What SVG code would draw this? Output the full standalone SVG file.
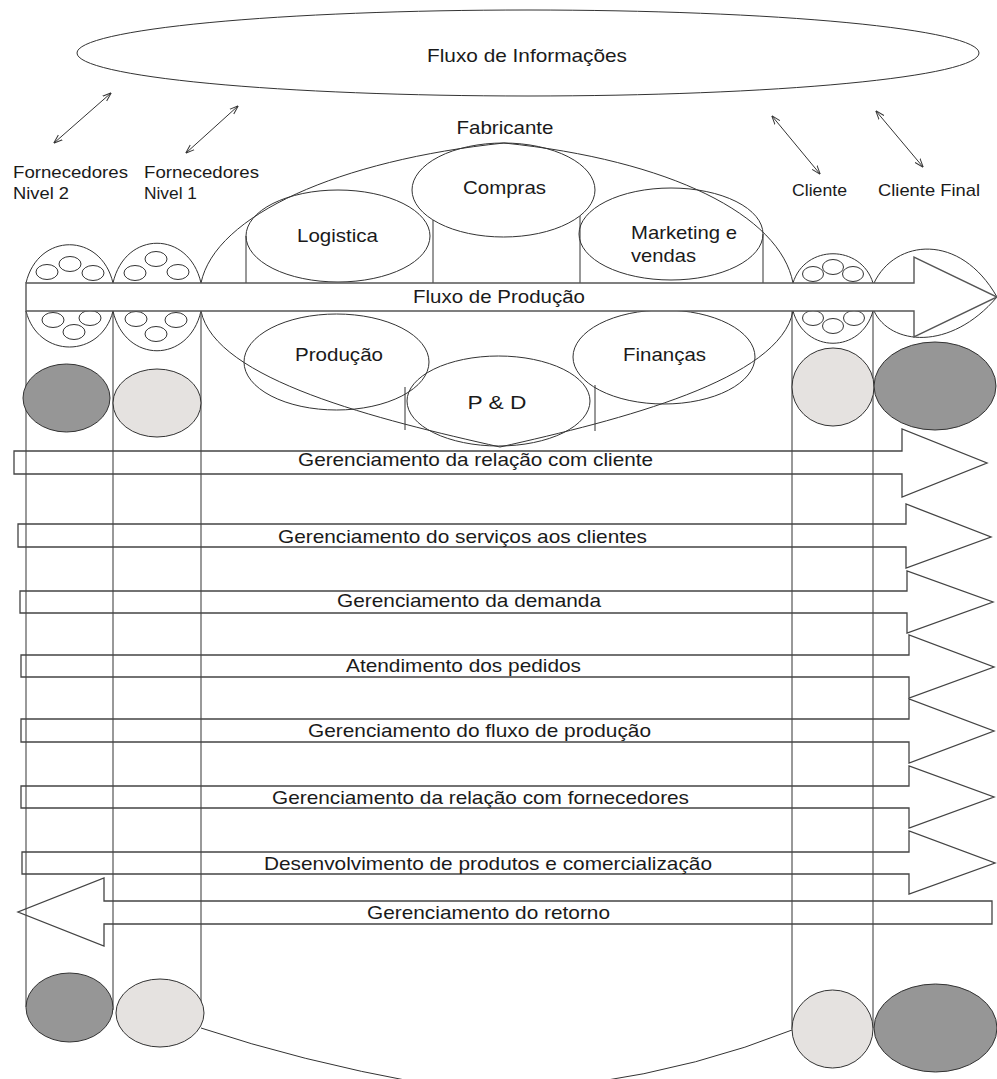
<svg xmlns="http://www.w3.org/2000/svg" width="997" height="1079" viewBox="0 0 997 1079">
<style>
.ln{fill:none;stroke:#333;stroke-width:1}
.gl{fill:none;stroke:#555;stroke-width:1.2}
.band{fill:#fff;stroke:#555;stroke-width:1.4}
.dk{fill:#969696;stroke:#333;stroke-width:1}
.lt{fill:#e5e2e0;stroke:#333;stroke-width:1}
.sc{fill:none;stroke:#333;stroke-width:1}
.pa{fill:none;stroke:#444;stroke-width:1.3;stroke-linejoin:miter}
.da{fill:none;stroke:#333;stroke-width:1}
text{font-family:"Liberation Sans",Arial,sans-serif;fill:#1a1a1a}
.t{font-size:19px}
.s{font-size:17px}
.c{text-anchor:middle}
</style>
<defs>
<marker id="ah" viewBox="0 0 10 10" refX="9.5" refY="5" markerWidth="9" markerHeight="9" orient="auto-start-reverse" markerUnits="userSpaceOnUse">
<path d="M0,1.5 L10,5 L0,8.5" fill="none" stroke="#333" stroke-width="1.1"/>
</marker>
</defs>
<rect x="0" y="0" width="997" height="1079" fill="#fff"/>

<g id="fluxo-informacoes">
<ellipse class="ln" cx="528" cy="53" rx="451" ry="43"/>
<text class="t c" x="527" y="62" textLength="200" lengthAdjust="spacingAndGlyphs">Fluxo de Informações</text>
</g>

<g id="fabricante">
<path class="ln" d="M201,283 C215,215 340,160 504,143 C670,160 780,215 793,283"/>
<path class="ln" d="M201,311 C215,380 380,420 500,447 C620,420 780,380 793,311"/>
<text class="t c" x="505" y="134" textLength="97" lengthAdjust="spacingAndGlyphs">Fabricante</text>
<g id="logistica">
<ellipse class="ln" cx="338" cy="236" rx="92" ry="46"/>
<line class="ln" x1="246" y1="236" x2="246" y2="283"/>
<text class="t c" x="337.5" y="242" textLength="81" lengthAdjust="spacingAndGlyphs">Logistica</text>
</g>
<g id="compras">
<ellipse class="ln" cx="503.5" cy="190" rx="91.5" ry="47"/>
<line class="ln" x1="433" y1="220" x2="433" y2="283"/>
<line class="ln" x1="580" y1="216" x2="580" y2="283"/>
<text class="t c" x="504.5" y="194" textLength="83" lengthAdjust="spacingAndGlyphs">Compras</text>
</g>
<g id="marketing">
<ellipse class="ln" cx="671" cy="234" rx="92" ry="46"/>
<line class="ln" x1="763" y1="234" x2="763" y2="283"/>
<text class="t" x="631" y="239" textLength="106" lengthAdjust="spacingAndGlyphs">Marketing e</text>
<text class="t" x="631" y="262" textLength="65" lengthAdjust="spacingAndGlyphs">vendas</text>
</g>
<g id="producao">
<ellipse class="ln" cx="336.5" cy="362" rx="92.5" ry="48"/>
<line class="ln" x1="405" y1="387" x2="405" y2="430"/>
<text class="t c" x="339" y="361" textLength="88" lengthAdjust="spacingAndGlyphs">Produção</text>
</g>
<g id="pd">
<ellipse class="ln" cx="498.5" cy="401" rx="91.5" ry="45"/>
<text class="t c" x="497" y="409" textLength="59" lengthAdjust="spacingAndGlyphs">P &amp; D</text>
</g>
<g id="financas">
<ellipse class="ln" cx="664" cy="357" rx="91" ry="47"/>
<line class="ln" x1="595" y1="385" x2="595" y2="431"/>
<text class="t c" x="664.5" y="361" textLength="83" lengthAdjust="spacingAndGlyphs">Finanças</text>
</g>
</g>

<g id="fornecedores-nivel-2">
<path class="ln" d="M26,283 C38,232 101,232 113,283"/>
<path class="ln" d="M26,311 C38,359 101,359 113,311"/>
<ellipse class="sc" cx="47" cy="272" rx="11" ry="7.5"/>
<ellipse class="sc" cx="70" cy="264" rx="11" ry="7.5"/>
<ellipse class="sc" cx="93" cy="273" rx="11" ry="7.5"/>
<ellipse class="sc" cx="53" cy="320" rx="11" ry="7.5"/>
<ellipse class="sc" cx="90" cy="318" rx="11" ry="7.5"/>
<ellipse class="sc" cx="74" cy="332" rx="11" ry="7.5"/>
<line class="gl" x1="26" y1="311" x2="26" y2="1007"/>
<text class="s" x="13" y="178" textLength="115" lengthAdjust="spacingAndGlyphs">Fornecedores</text>
<text class="s" x="13" y="199" textLength="56" lengthAdjust="spacingAndGlyphs">Nivel 2</text>
</g>

<g id="fornecedores-nivel-1">
<path class="ln" d="M113,283 C125,230 189,230 201,283"/>
<path class="ln" d="M113,311 C125,364 189,364 201,311"/>
<ellipse class="sc" cx="135" cy="273" rx="11" ry="7.5"/>
<ellipse class="sc" cx="156" cy="259" rx="11" ry="7.5"/>
<ellipse class="sc" cx="178" cy="272" rx="11" ry="7.5"/>
<ellipse class="sc" cx="136" cy="319" rx="11" ry="7.5"/>
<ellipse class="sc" cx="176" cy="320" rx="11" ry="7.5"/>
<ellipse class="sc" cx="156" cy="334" rx="11" ry="7.5"/>
<line class="ln" x1="113" y1="311" x2="113" y2="1010"/>
<line class="gl" x1="201" y1="311" x2="201" y2="1013"/>
<text class="s" x="144" y="178" textLength="115" lengthAdjust="spacingAndGlyphs">Fornecedores</text>
<text class="s" x="144" y="199" textLength="53" lengthAdjust="spacingAndGlyphs">Nivel 1</text>
</g>

<g id="cliente">
<path class="ln" d="M793,283 C805,244 861,244 873,283"/>
<path class="ln" d="M793,311 C805,354 861,354 873,311"/>
<ellipse class="sc" cx="813" cy="274" rx="10.5" ry="7.5"/>
<ellipse class="sc" cx="833" cy="267" rx="10.5" ry="7.5"/>
<ellipse class="sc" cx="853" cy="274" rx="10.5" ry="7.5"/>
<ellipse class="sc" cx="813" cy="318" rx="10.5" ry="7.5"/>
<ellipse class="sc" cx="833" cy="326" rx="10.5" ry="7.5"/>
<ellipse class="sc" cx="854" cy="318" rx="10.5" ry="7.5"/>
<line class="ln" x1="792" y1="311" x2="792" y2="1029"/>
<text class="s" x="792" y="196" textLength="55" lengthAdjust="spacingAndGlyphs">Cliente</text>
</g>

<g id="cliente-final">
<path class="ln" d="M874,283 C895,239 960,232 997,297"/>
<path class="ln" d="M874,311 C890,345 950,352 997,297"/>
<line class="ln" x1="873" y1="311" x2="873" y2="1028"/>
<text class="s" x="878" y="196" textLength="102" lengthAdjust="spacingAndGlyphs">Cliente Final</text>
</g>

<g id="fluxo-producao">
<polygon class="band" points="26,283 914,283 914,257 997,297 914,337 914,311 26,311"/>
<text class="t c" x="499" y="303" textLength="172" lengthAdjust="spacingAndGlyphs">Fluxo de Produção</text>
</g>

<g id="processos">
<g id="p1">
<polygon class="pa" points="14,451 902,451 902,429 987,463 902,497 902,474 14,474"/>
<text class="t c" x="475.5" y="466" textLength="355" lengthAdjust="spacingAndGlyphs">Gerenciamento da relação com cliente</text>
</g>
<g id="p2">
<polygon class="pa" points="18,524 906,524 906,504 991,537 906,568 906,547 18,547"/>
<text class="t c" x="462.5" y="543" textLength="369" lengthAdjust="spacingAndGlyphs">Gerenciamento do serviços aos clientes</text>
</g>
<g id="p3">
<polygon class="pa" points="20,591 907,591 907,571 993,602 907,633 907,613 20,613"/>
<text class="t c" x="469" y="607" textLength="264" lengthAdjust="spacingAndGlyphs">Gerenciamento da demanda</text>
</g>
<g id="p4">
<polygon class="pa" points="21,655 909,655 909,635 994,667 909,698 909,677 21,677"/>
<text class="t c" x="463.5" y="672" textLength="235" lengthAdjust="spacingAndGlyphs">Atendimento dos pedidos</text>
</g>
<g id="p5">
<polygon class="pa" points="21,719 909,719 909,699 994,731 909,763 909,742 21,742"/>
<text class="t c" x="479.5" y="737" textLength="343" lengthAdjust="spacingAndGlyphs">Gerenciamento do fluxo de produção</text>
</g>
<g id="p6">
<polygon class="pa" points="21,786 909,786 909,766 994,797 909,828 909,808 21,808"/>
<text class="t c" x="480.5" y="804" textLength="417" lengthAdjust="spacingAndGlyphs">Gerenciamento da relação com fornecedores</text>
</g>
<g id="p7">
<polygon class="pa" points="22,852 909,852 909,831 995,863 909,894 909,874 22,874"/>
<text class="t c" x="488" y="870" textLength="448" lengthAdjust="spacingAndGlyphs">Desenvolvimento de produtos e comercialização</text>
</g>
<g id="p8">
<polygon class="pa" points="992,901 104,901 104,878 18,912 104,946 104,924 992,924"/>
<text class="t c" x="488.5" y="919" textLength="243" lengthAdjust="spacingAndGlyphs">Gerenciamento do retorno</text>
</g>
</g>

<g id="base">
<path class="ln" d="M201,1028 Q300,1061 420,1083"/>
<path class="ln" d="M792,1030 Q700,1067 590,1083"/>
</g>

<g id="marcadores">
<ellipse class="dk" cx="66.5" cy="398" rx="43.5" ry="34"/>
<ellipse class="lt" cx="157" cy="403" rx="44" ry="34"/>
<ellipse class="lt" cx="833" cy="387" rx="41" ry="39"/>
<ellipse class="dk" cx="935" cy="386" rx="61" ry="44"/>
<ellipse class="dk" cx="69.5" cy="1007.5" rx="43.5" ry="34.5"/>
<ellipse class="lt" cx="160" cy="1013" rx="44" ry="34"/>
<ellipse class="lt" cx="832.5" cy="1029" rx="40.5" ry="39"/>
<ellipse class="dk" cx="935.5" cy="1028" rx="61.5" ry="44"/>
</g>

<g id="conectores">
<line class="da" x1="111" y1="93" x2="54" y2="143" marker-start="url(#ah)" marker-end="url(#ah)"/>
<line class="da" x1="238" y1="106" x2="186" y2="153" marker-start="url(#ah)" marker-end="url(#ah)"/>
<line class="da" x1="772" y1="116" x2="820" y2="174" marker-start="url(#ah)" marker-end="url(#ah)"/>
<line class="da" x1="876" y1="111" x2="923" y2="167" marker-start="url(#ah)" marker-end="url(#ah)"/>
</g>
</svg>
